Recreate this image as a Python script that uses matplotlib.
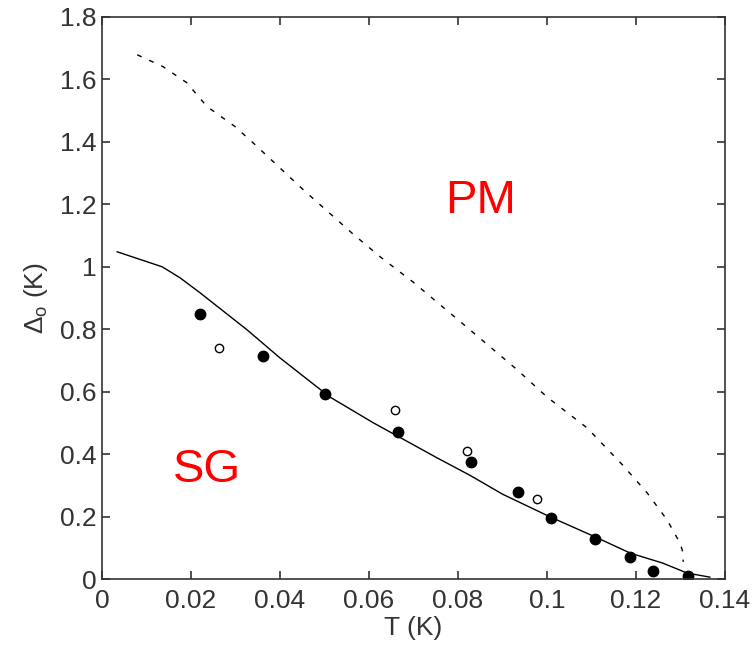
import matplotlib
matplotlib.use("Agg")
import matplotlib.pyplot as plt

plt.rcParams['font.family'] = ['Liberation Sans', 'DejaVu Sans']
plt.rcParams['mathtext.default'] = 'regular'

# filled circles (data set 1)
t_filled = [0.0220, 0.0362, 0.0501, 0.0665, 0.0829, 0.0935, 0.1009, 0.1108, 0.1187, 0.1238, 0.1317]
d_filled = [0.849, 0.715, 0.593, 0.471, 0.375, 0.279, 0.196, 0.128, 0.071, 0.026, 0.010]

# open circles (data set 2)
t_open = [0.0263, 0.0658, 0.0820, 0.0978]
d_open = [0.741, 0.542, 0.411, 0.255]

# solid line (SG boundary)
t_solid = [0.0034, 0.0135, 0.0175, 0.0220, 0.0326, 0.0400, 0.0512, 0.0610, 0.0665, 0.0753,
           0.0827, 0.0901, 0.1007, 0.1108, 0.1187, 0.1260, 0.1315, 0.1366]
d_solid = [1.048, 1.000, 0.965, 0.917, 0.798, 0.708, 0.583, 0.500, 0.457, 0.388,
           0.332, 0.271, 0.199, 0.135, 0.083, 0.051, 0.019, 0.006]

# dashed line (PM boundary)
t_dash = [0.0079, 0.0137, 0.0190, 0.0236, 0.0299, 0.0344, 0.0452, 0.0564, 0.0625, 0.0700,
          0.0822, 0.0933, 0.1000, 0.1090, 0.1170, 0.1225, 0.1270, 0.1299, 0.1306, 0.1306]
d_dash = [1.679, 1.641, 1.590, 1.513, 1.449, 1.391, 1.247, 1.105, 1.032, 0.950,
          0.804, 0.670, 0.583, 0.484, 0.365, 0.276, 0.189, 0.115, 0.083, 0.055]

xticks = [0, 0.02, 0.04, 0.06, 0.08, 0.1, 0.12, 0.14]
xticklabels = ['0', '0.02', '0.04', '0.06', '0.08', '0.1', '0.12', '0.14']
yticks = [0, 0.2, 0.4, 0.6, 0.8, 1.0, 1.2, 1.4, 1.6, 1.8]
yticklabels = ['0', '0.2', '0.4', '0.6', '0.8', '1', '1.2', '1.4', '1.6', '1.8']

fig = plt.figure(figsize=(7.53, 6.46), dpi=100)
ax = fig.add_axes([0.1355, 0.1037, 0.8273, 0.87])

ax.plot(t_dash, d_dash, color='black', lw=1.0, ls=(0, (3.5, 6)))
ax.plot(t_solid, d_solid, color='black', lw=1.0)
ax.plot(t_filled, d_filled, 'o', color='black', ms=7.5)
ax.plot(t_open, d_open, 'o', mfc='white', mec='black', mew=1.0, ms=6)

ax.text(0.085, 1.212, 'PM', color='red', fontsize=34, ha='center', va='center')
ax.text(0.0236, 0.350, 'SG', color='red', fontsize=34, ha='center', va='center')

ax.set_xlim(0, 0.14)
ax.set_ylim(0, 1.8)
ax.set_xticks(xticks)
ax.set_xticklabels(xticklabels)
ax.set_yticks(yticks)
ax.set_yticklabels(yticklabels)
ax.tick_params(direction='in', top=True, right=True, length=6, width=1.2,
               labelsize=19, labelcolor='#333333', colors='#333333')
ax.tick_params(axis='x', pad=7)
ax.tick_params(axis='y', pad=4)
for s in ax.spines.values():
    s.set_linewidth(1.2)
    s.set_color('#333333')

ax.set_xlabel('T (K)', fontsize=19, color='#333333', labelpad=2)
ax.set_ylabel('Δ$_o$ (K)', fontsize=19, color='#333333', labelpad=7)

fig.savefig('out.png', dpi=100)
